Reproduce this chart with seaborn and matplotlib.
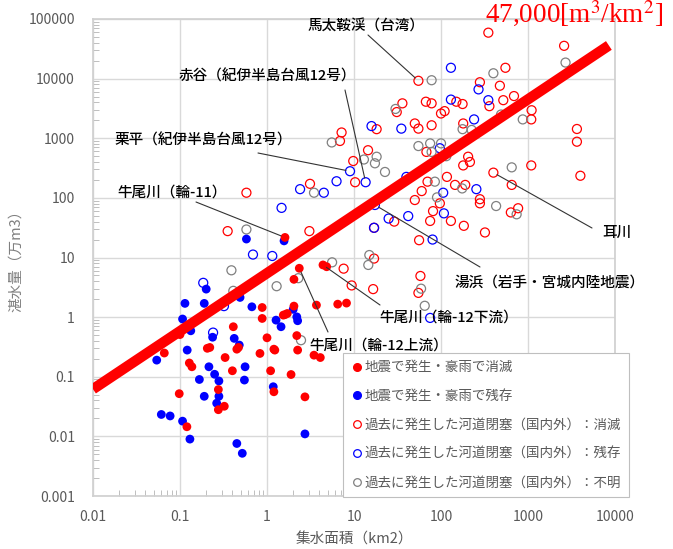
import numpy as np
import pandas as pd
import matplotlib
matplotlib.use("Agg")
import matplotlib.pyplot as plt
import seaborn as sns
from matplotlib.lines import Line2D
from matplotlib.ticker import FixedLocator, LogLocator, NullFormatter

# 地震で発生・豪雨で消滅 (filled red)
quake_gone_area = [0.066, 0.10, 0.098, 0.12, 0.128, 0.137, 0.206, 0.22, 0.276, 0.276,
                   0.323, 0.33, 0.41, 0.40, 0.45, 0.47, 0.83, 0.88, 0.88, 1.0,
                   1.1, 1.2, 1.23, 1.2, 1.54, 1.61, 1.71, 1.89, 2.04, 2.04,
                   2.2, 2.25, 2.73, 3.47, 4.1, 3.7, 6.5, 8.2, 2.35, 4.4,
                   4.85, 1.61]
quake_gone_vol = [0.25, 0.51, 0.052, 0.0145, 0.17, 0.147, 0.30, 0.31, 0.061, 0.028,
                  0.032, 0.21, 0.69, 0.126, 0.29, 0.31, 0.246, 0.95, 1.45, 0.45,
                  0.126, 0.29, 0.28, 0.056, 1.08, 1.1, 1.15, 0.109, 1.53, 4.3,
                  0.49, 0.28, 0.046, 0.23, 0.21, 1.59, 1.65, 1.72, 6.6, 7.5,
                  7.0, 21.7]

# 地震で発生・豪雨で残存 (filled blue)
quake_kept_area = [0.054, 0.061, 0.077, 0.107, 0.13, 0.107, 0.114, 0.121, 0.133, 0.167,
                   0.19, 0.19, 0.2, 0.215, 0.237, 0.25, 0.28, 0.264, 0.28, 0.42,
                   0.48, 0.49, 0.56, 0.55, 0.45, 0.52, 0.67, 1.27, 1.45, 1.18,
                   2.0, 2.2, 2.25, 2.73, 0.58, 1.57]
quake_kept_vol = [0.19, 0.0233, 0.022, 0.018, 0.009, 0.93, 1.7, 0.28, 0.59, 0.09,
                  0.047, 1.7, 2.95, 0.147, 0.46, 0.11, 0.085, 0.036, 0.047, 0.44,
                  0.34, 2.14, 0.147, 0.088, 0.0076, 0.0052, 1.49, 0.89, 0.69, 0.068,
                  1.35, 1.01, 0.87, 0.011, 20.4, 19.0]

# 過去に発生した河道閉塞：消滅 (open red)
past_gone_area = [0.58, 0.353, 3.12, 3.07, 7.2, 6.9, 10.3, 9.8, 14.5, 18.2,
                  350, 2600, 55, 550, 280, 475, 360, 520, 690, 1100,
                  1090, 3650, 3650, 4000, 1090, 400, 650, 770, 635, 320,
                  183, 78, 55, 50, 180, 100, 110, 78, 67, 150,
                  177, 36, 31, 68, 205, 215, 180, 70, 117, 145,
                  190, 60, 50, 97, 280, 280, 81, 75, 130, 29,
                  17, 56, 17, 7.6, 58, 55, 9.4, 16.6]
past_gone_vol = [122, 27.7, 172, 27.7, 1250, 900, 183, 415, 630, 1420,
                 59000, 35500, 9200, 15200, 8700, 7600, 3450, 4350, 5100, 2950,
                 2070, 1430, 875, 235, 350, 265, 165, 67, 57, 26.3,
                 34, 1650, 1450, 1770, 1770, 2600, 2850, 3850, 4100, 4100,
                 3750, 3850, 2750, 590, 490, 400, 350, 187, 225, 165,
                 165, 130, 92, 81, 95, 81, 60, 41, 41, 40,
                 31.5, 19.5, 9.6, 6.5, 4.9, 2.55, 3.4, 2.95]

# 過去に発生した河道閉塞：残存 (open blue)
past_kept_area = [0.185, 0.32, 0.24, 0.69, 1.15, 1.47, 2.4, 4.5, 6.3, 9.0,
                  13.6, 15.9, 35, 130, 270, 350, 130, 240, 97, 40,
                  255, 106, 108, 42, 25, 17, 80, 17.4, 75]
past_kept_vol = [3.76, 1.53, 0.55, 11.2, 10.6, 68, 140, 122, 190, 280,
                 183, 1600, 1450, 15200, 6600, 4350, 4450, 2070, 680, 225,
                 140, 122, 55, 49.5, 45, 31.5, 20, 76, 0.97]

# 過去に発生した河道閉塞：不明 (open gray)
past_unknown_area = [0.58, 0.39, 0.41, 1.29, 2.29, 2.46, 3.47, 5.55, 5.6, 13,
                     17.4, 18.2, 22.7, 78, 400, 2700, 870, 490, 177, 225,
                     30, 55, 75, 100, 78, 115, 650, 430, 740, 175,
                     85, 90, 15, 14.6, 59, 65]
past_unknown_vol = [29.5, 6.1, 2.76, 3.3, 4.5, 0.41, 122, 850, 8.3, 440,
                    380, 490, 272, 9400, 12300, 18600, 2070, 2500, 1420, 1380,
                    3100, 740, 820, 820, 590, 500, 325, 73, 53, 144,
                    187, 102, 11, 7.5, 3.0, 1.55]

# 47,000 m3/km2 line (drawn end points)
line_area = [0.01, 8500]
line_vol = [0.062, 36000]

labels = ["地震で発生・豪雨で消滅", "地震で発生・豪雨で残存",
          "過去に発生した河道閉塞（国内外）：消滅",
          "過去に発生した河道閉塞（国内外）：残存",
          "過去に発生した河道閉塞（国内外）：不明"]

x_ticks = [0.01, 0.1, 1, 10, 100, 1000, 10000]
x_tick_labels = ["0.01", "0.1", "1", "10", "100", "1000", "10000"]
y_ticks = [0.001, 0.01, 0.1, 1, 10, 100, 1000, 10000, 100000]
y_tick_labels = ["0.001", "0.01", "0.1", "1", "10", "100", "1000", "10000", "100000"]

# annotations: text, text centre (image px), leader start (image px), target point
notes = [
    ("馬太鞍渓（台湾）", (366, 27), (368, 35), (55, 9200)),
    ("赤谷（紀伊半島台風12号）", (267, 76), (345, 90), (13.6, 183)),
    ("栗平（紀伊半島台風12号）", (203, 140), (258, 153), (9.0, 280)),
    ("牛尾川（輪-11）", (172, 193), (196, 202), (1.61, 21.7)),
    ("湯浜（岩手・宮城内陸地震）", (550, 283), (480, 267), (17.4, 76)),
    ("耳川", (617, 233), (592, 228), (400, 265)),
    ("牛尾川（輪-12下流）", (449, 318), (380, 305), (4.4, 7.5)),
    ("牛尾川（輪-12上流）", (379, 346), (328, 332), (2.35, 6.6)),
]

W, H = 673, 549


def px(x, y):
    return (x / W, 1 - y / H)


sns.set_theme(style="white")
plt.rcParams["font.family"] = ["Noto Sans CJK JP", "DejaVu Sans"]
plt.rcParams["mathtext.fontset"] = "stix"

fig = plt.figure(figsize=(W / 100, H / 100), dpi=100)
ax = fig.add_axes([93 / W, 1 - 496 / H, 522 / W, 477 / H])
ax.set_xscale("log")
ax.set_yscale("log")

grey_txt = "#595959"
groups = [
    (past_gone_area, past_gone_vol, "red", False),
    (past_kept_area, past_kept_vol, "blue", False),
    (past_unknown_area, past_unknown_vol, "#808080", False),
    (quake_kept_area, quake_kept_vol, "blue", True),
    (quake_gone_area, quake_gone_vol, "red", True),
]
for xs, ys, c, filled in groups:
    df = pd.DataFrame({"area": xs, "vol": ys})
    if filled:
        sns.scatterplot(data=df, x="area", y="vol", ax=ax, color=c, s=40,
                        edgecolor="none", zorder=4, legend=False)
    else:
        sns.scatterplot(data=df, x="area", y="vol", ax=ax, s=42,
                        facecolor="none", edgecolor=c, linewidth=0.9,
                        zorder=3, legend=False)

ax.plot(line_area, line_vol, color="red", lw=7.5, solid_capstyle="butt", zorder=5)

ax.set_xlim(0.01, 10000)
ax.set_ylim(0.001, 100000)
ax.xaxis.set_major_locator(FixedLocator(x_ticks))
ax.set_xticklabels(x_tick_labels)
ax.yaxis.set_major_locator(FixedLocator(y_ticks))
ax.set_yticklabels(y_tick_labels)
for axis in (ax.xaxis, ax.yaxis):
    axis.set_minor_locator(LogLocator(base=10, subs=np.arange(2, 10), numticks=20))
    axis.set_minor_formatter(NullFormatter())
ax.tick_params(which="major", length=0, labelsize=10, labelcolor=grey_txt)
ax.tick_params(axis="x", which="major", pad=10)
ax.tick_params(axis="y", which="major", pad=13)
ax.tick_params(which="minor", direction="in", length=4, width=0.7, color="#bfbfbf",
               bottom=True, left=True)
ax.grid(which="major", color="#d9d9d9", lw=1)
for sp in ax.spines.values():
    sp.set_color("#d0d0d0")

ax.set_xlabel("集水面積（km2）", color=grey_txt, fontsize=10.5, labelpad=6)
ax.set_ylabel("湛水量（万m3）", color="#7f7f7f", fontsize=10.5, labelpad=4)

for text, (cx, cy), (sx, sy), target in notes:
    fig.text(*px(cx, cy), text, ha="center", va="center", fontsize=10.5,
             color="black", fontweight="medium", zorder=7)
    ax.annotate("", xy=target, xycoords="data", xytext=px(sx, sy),
                textcoords="figure fraction",
                arrowprops=dict(arrowstyle="-", color="#333333", lw=0.8,
                                shrinkA=0, shrinkB=3), zorder=6)

fig.text(*px(485, 23), r"47,000[m$^3$/km$^2$]", color="red", fontsize=19.5,
         family="Liberation Serif", va="baseline", ha="left")

handles = [
    Line2D([], [], ls="", marker="o", ms=5.5, mfc="red", mec="red"),
    Line2D([], [], ls="", marker="o", ms=5.5, mfc="blue", mec="blue"),
    Line2D([], [], ls="", marker="o", ms=5.5, mfc="none", mec="red", mew=0.9),
    Line2D([], [], ls="", marker="o", ms=5.5, mfc="none", mec="blue", mew=0.9),
    Line2D([], [], ls="", marker="o", ms=5.5, mfc="none", mec="#808080", mew=0.9),
]
leg = ax.legend(handles, labels, loc="upper left", bbox_to_anchor=(0.479, 0.30),
                fontsize=9.7, labelcolor=grey_txt, frameon=True, fancybox=False,
                edgecolor="#bfbfbf", framealpha=1, borderpad=0.55,
                handlelength=1.0, handletextpad=0.05, labelspacing=1.1,
                borderaxespad=0)
leg.get_frame().set_linewidth(0.8)
leg.set_zorder(8)

fig.savefig("out.png", dpi=100)
